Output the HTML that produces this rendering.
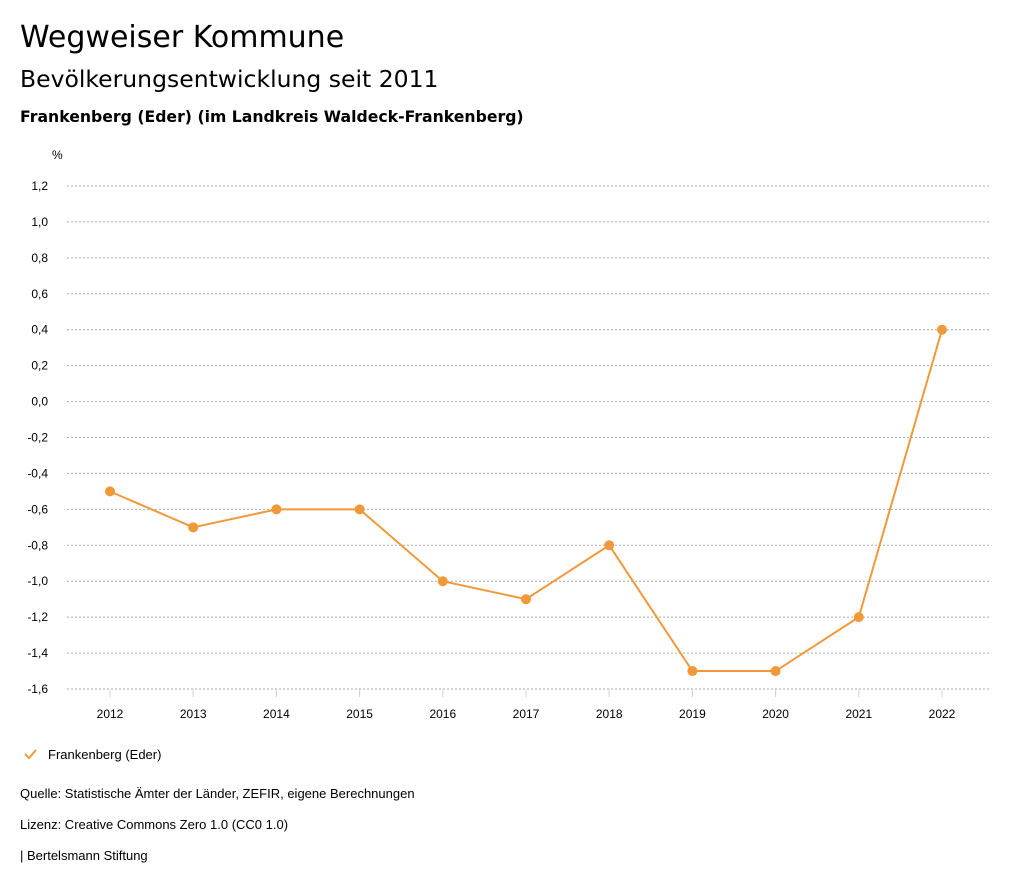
<!DOCTYPE html>
<html><head><meta charset="utf-8"><style>
body{margin:0;background:#fff;font-family:"Liberation Sans",sans-serif;}
.wrap{position:relative;width:1024px;height:888px;}
.t{position:absolute;left:20px;color:#000;white-space:nowrap;}
.d{font-family:"DejaVu Sans",sans-serif;}
</style></head><body><div class="wrap">
<div class="t d" style="top:20px;font-size:30px;">Wegweiser Kommune</div>
<div class="t d" style="top:65px;font-size:23.5px;">Bevölkerungsentwicklung seit 2011</div>
<div class="t d" style="top:107px;font-size:15.7px;font-weight:bold;">Frankenberg (Eder) (im Landkreis Waldeck-Frankenberg)</div>
<svg id="c" width="1024" height="888" style="position:absolute;left:0;top:0" font-family="Liberation Sans, sans-serif"></svg>
<div class="t" style="top:786px;font-size:13px;">Quelle: Statistische Ämter der Länder, ZEFIR, eigene Berechnungen</div>
<div class="t" style="top:817px;font-size:13px;">Lizenz: Creative Commons Zero 1.0 (CC0 1.0)</div>
<div class="t" style="top:848px;font-size:13px;">| Bertelsmann Stiftung</div>
</div>
<script>
const years=["2012","2013","2014","2015","2016","2017","2018","2019","2020","2021","2022"];
const values=[-0.5,-0.7,-0.6,-0.6,-1.0,-1.1,-0.8,-1.5,-1.5,-1.2,0.4];
const yTicks=[1.2,1.0,0.8,0.6,0.4,0.2,0.0,-0.2,-0.4,-0.6,-0.8,-1.0,-1.2,-1.4,-1.6];
const svg=document.getElementById('c');const NS='http://www.w3.org/2000/svg';
function y(v){return 186+(1.2-v)*(689-186)/2.8;}
function x(i){return 110+i*83.2;}
function mk(t,a,p){const e=document.createElementNS(NS,t);for(const k in a)e.setAttribute(k,a[k]);(p||svg).appendChild(e);return e;}
let u=mk('text',{x:52,y:159,'font-size':12,fill:'#000'});u.textContent='%';


yTicks.forEach(v=>{
 const l=mk('line',{x1:67,x2:990,y1:y(v),y2:y(v),stroke:'#aaa','stroke-dasharray':'2,2','stroke-width':1});
 
 
 const t=mk('text',{x:48,y:y(v)+4,'text-anchor':'end','font-size':12,fill:'#000'});
 t.textContent=v.toFixed(1).replace('.',',').replace('-0,0','0,0');
 
 
});
years.forEach((yr,i)=>{
 const l=mk('line',{x1:x(i),x2:x(i),y1:690,y2:697,stroke:'#ccc'});
 
 
 const t=mk('text',{x:x(i),y:718,'text-anchor':'middle','font-size':12,fill:'#000'});
 t.textContent=yr;
 
 
});
const p=mk('polyline',{points:values.map((v,i)=>x(i)+','+y(v)).join(' '),fill:'none',stroke:'#f0993a','stroke-width':2});


values.forEach((v,i)=>{
 const c=mk('circle',{cx:x(i),cy:y(v),r:5,fill:'#f0993a'});
 
 
});
const g=mk('g',{});


mk('polyline',{points:'25,754 29,758 36,750',fill:'none',stroke:'#f0993a','stroke-width':2},g);
const lt=mk('text',{x:48,y:759,'font-size':13,fill:'#000'},g);lt.textContent='Frankenberg (Eder)';
</script></body></html>
